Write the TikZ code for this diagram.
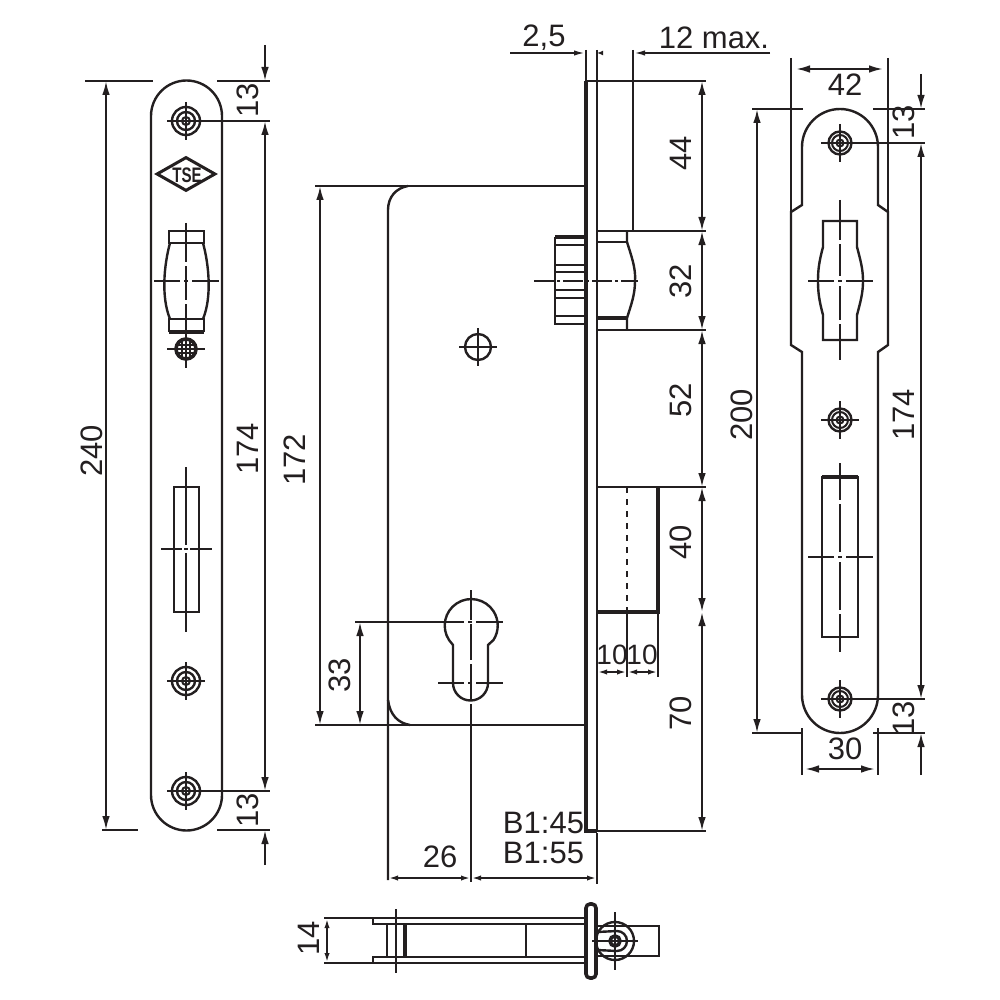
\documentclass[tikz,border=0pt]{standalone}
\usepackage{fontspec}
\setmainfont{Liberation Sans}
\usepackage{xcolor}
\usetikzlibrary{arrows.meta,shapes.geometric}
\definecolor{ink}{HTML}{231F20}

\begin{document}
\begin{tikzpicture}[
  x=0.5pt, y=-0.5pt,
  >={Latex[length=7pt,width=3.8pt]},
  every path/.style={draw=ink, line width=1pt},
  part/.style={line width=1.2pt},
  heavy/.style={line width=1.8pt},
  ext/.style={line width=1pt},
  dim/.style={line width=1pt, <->},
  tiny/.style={line width=1pt, <->, >={Latex[length=5pt,width=2.6pt]}},
  cen/.style={line width=1pt},
  cdash/.style={line width=1pt, dash pattern=on 10pt off 1.5pt on 1.5pt off 1.5pt},
  num/.style={draw=none, inner sep=0pt, text=ink, font=\fontsize{15.5}{18}\selectfont},
  vnum/.style={num, rotate=90}
]
  \useasboundingbox[draw=none] (0,0) rectangle (1000,1000);

  % left plate
  \draw[part] (151,116) arc[start angle=180,end angle=360,radius=35.5] -- (222,795)
    arc[start angle=0,end angle=180,radius=35.5] -- cycle;
  \foreach \cy in {121,681,791} {
    \draw[part] (186,\cy) circle[radius=14];
    \draw[part] (186,\cy) circle[radius=9];
    \draw[cen] (186,\cy) circle[radius=4];
    \draw[cen] (167,\cy) -- (205,\cy);
    \draw[cen] (186,\cy-19) -- (186,\cy+19);
  }
  \node[diamond, aspect=1.75, draw=ink, line width=1.5pt, minimum width=29.5pt, minimum height=17pt, inner sep=0pt] (tse) at (186,174) {};
  \node[draw=none, inner sep=0pt, text=ink, xscale=0.72, font=\bfseries\fontsize{10.5}{11}\selectfont] (tsetext) at (187,175) {TSE};
  \draw[part] (169,231) rectangle (204,243);
  \draw[part] (169,332) -- (169,319) -- (204,319) -- (204,332);
  \draw[heavy] (169,332) -- (204,332);
  \draw[part] (170,243) .. controls (164,265) and (161,297) .. (170,319);
  \draw[part] (203,243) .. controls (209,265) and (212,297) .. (203,319);
  \draw[cen] (154,281) -- (180,281) (184,281) -- (188,281) (192,281) -- (219,281);
  \draw[cen] (186,223) -- (186,262) (186,266) -- (186,300) (186,304) -- (186,342);
  \draw[heavy] (186,349) circle[radius=10];
  \draw[cen] (177,345) -- (195,345) (177,353) -- (195,353) (182,340) -- (182,358) (190,340) -- (190,358);
  \draw[cen] (167,349) -- (205,349) (186,330) -- (186,368);
  \draw[part] (174,487) rectangle (199,612);
  \draw[cen] (161,549) -- (182,549) (184,549) -- (188,549) (190,549) -- (212,549);
  \draw[cen] (186,467) -- (186,545) (186,553) -- (186,632);

  % left plate dimensions
  \draw[ext] (85,81) -- (153,81) (217,81) -- (270,81);
  \draw[ext] (102,830) -- (138,830) (217,830) -- (270,830);
  \draw[ext] (190,121) -- (270,121) (190,791) -- (270,791);
  \draw[dim] (106,81) -- (106,830);
  \draw[->] (265,45) -- (265,81);
  \draw[dim] (265,121) -- (265,791);
  \draw[->] (265,865) -- (265,830);
  \node[vnum] (lena) at (92,451) {240};
  \node[vnum] (lenb) at (248,100) {13};
  \node[vnum] (lenc) at (248,449) {174};
  \node[vnum] (lend) at (248,810) {13};

  % lock body, side view
  \draw[part] (388,880) -- (388,210) .. controls (388,197) and (396,188) .. (408,186);
  \draw[ext] (315,186) -- (586,186);
  \draw[ext] (315,725) -- (586,725);
  \draw[part] (388,700) .. controls (390,715) and (398,723) .. (410,725);
  \draw[heavy] (586,81) -- (586,831) -- (597,831);
  \draw[part] (586,81) -- (597,81) -- (597,831);
  \draw[ext] (586,50) -- (586,81) (597,50) -- (597,81);
  \draw[ext] (597,833) -- (597,884);

  % follower
  \draw[part] (555,237) -- (555,324) -- (586,324);
  \draw[heavy] (555,237) -- (586,237);
  \draw[part] (555,245) -- (586,245) (555,265) -- (586,265) (555,272) -- (586,272) (555,290) -- (586,290) (555,298) -- (586,298) (555,316) -- (586,316);
  \draw[ext] (597,231) -- (706,231) (597,330) -- (706,330);
  \draw[part] (597,242) -- (627,242);
  \draw[heavy] (597,318) -- (627,318);
  \draw[part] (627,231) -- (627,242) .. controls (631,255) and (636,268) .. (635,281) .. controls (635,295) and (631,305) .. (627,318) -- (627,330);
  \draw[cdash] (534,281) -- (638,281);
  \draw[part] (633,50) -- (633,231);

  % hub and cylinder
  \draw[part] (478,347) circle[radius=13];
  \draw[cen] (459,347) -- (497,347) (478,328) -- (478,366);
  \draw[part] (453,645) -- (449,640) arc[start angle=147,end angle=393,radius=26.5] -- (488,645) -- (488,683)
    arc[start angle=0,end angle=180,radius=17.5] -- cycle;
  \draw[cen] (355,622) -- (464,622) (468,622) -- (472,622) (476,622) -- (503,622);
  \draw[cen] (438,683) -- (464,683) (468,683) -- (472,683) (476,683) -- (503,683);
  \draw[cen] (471,590) -- (471,620) (471,624) -- (471,660) (471,664) -- (471,700) (471,704) -- (471,882);

  % latch bolt
  \draw[ext] (597,487) -- (706,487);
  \draw[heavy] (597,612) -- (658,612) -- (658,487);
  \draw[ext, dashed] (627,487) -- (627,612);
  \draw[ext] (627,612) -- (627,677) (658,612) -- (658,677);

  % body dimensions
  \draw[dim] (320,186) -- (320,725);
  \draw[dim] (360,622) -- (360,725);
  \draw[dim] (702,81) -- (702,231);
  \draw[dim] (702,231) -- (702,330);
  \draw[dim] (702,330) -- (702,487);
  \draw[dim] (702,487) -- (702,612);
  \draw[dim] (702,612) -- (702,831);
  \draw[ext] (597,81) -- (706,81) (597,831) -- (706,831);
  \draw[tiny] (597,672) -- (627,672);
  \draw[tiny] (627,672) -- (658,672);
  \draw[tiny] (388,878) -- (471,878);
  \draw[tiny] (471,878) -- (597,878);
  \draw[ext, ->, >={Latex[length=6pt,width=2.6pt]}] (510,53) -- (586,53);
  \draw[ext, ->, >={Latex[length=6pt,width=2.6pt]}] (770,53) -- (633,53);
  \draw[ext, <-, >={Latex[length=3pt,width=2.4pt]}] (597,53) -- (600,53);
  \node[num] (gap) at (544,38) {2,5};
  \node[num] (maxb) at (714,38) {12 max.};
  \node[vnum] (h44) at (681,153) {44};
  \node[vnum] (h32) at (681,281) {32};
  \node[vnum] (h52) at (681,400) {52};
  \node[vnum] (h40) at (681,542) {40};
  \node[vnum] (h70) at (681,713) {70};
  \node[vnum] (h172) at (295,460) {172};
  \node[vnum] (h33) at (340,675) {33};
  \node[num, font=\fontsize{14}{16}\selectfont] (wa) at (612,655) {10};
  \node[num, font=\fontsize{14}{16}\selectfont] (wb) at (642,655) {10};
  \node[num, anchor=east] (bla) at (585,823) {B1:45};
  \node[num, anchor=east] (blb) at (585,853) {B1:55};
  \node[num] (back) at (440,857) {26};

  % right plate
  \draw[part] (802,147) arc[start angle=180,end angle=360,radius=38] -- (878,205) -- (888,212) -- (888,345)
    -- (878,352) -- (878,695) arc[start angle=0,end angle=180,radius=38] -- (802,352) -- (791,345) -- (791,212) -- (802,205) -- cycle;
  \draw[part] (791,58) -- (791,212) (888,58) -- (888,212);
  \foreach \cy in {143,420,699} {
    \draw[part] (840,\cy) circle[radius=11.5];
    \draw[cen] (840,\cy) circle[radius=8];
    \draw[cen] (840,\cy) circle[radius=3.5];
    \draw[cen] (821,\cy) -- (859,\cy);
    \draw[cen] (840,\cy-19) -- (840,\cy+19);
  }
  \draw[part] (823,247) -- (823,221) -- (857,221) -- (857,247) .. controls (861,262) and (863,270) .. (863,281)
    .. controls (863,292) and (861,300) .. (857,315) -- (857,340) -- (823,340) -- (823,315)
    .. controls (819,300) and (818,292) .. (818,281) .. controls (818,270) and (819,262) .. (823,247);
  \draw[cen] (808,281) -- (834,281) (838,281) -- (842,281) (846,281) -- (873,281);
  \draw[cen] (840,200) -- (840,240) (840,244) -- (840,276) (840,286) -- (840,320) (840,324) -- (840,360);
  \draw[part] (822,477) rectangle (858,637);
  \draw[heavy] (822,477) -- (858,477);
  \draw[cen] (808,557) -- (834,557) (838,557) -- (842,557) (846,557) -- (873,557);
  \draw[cen] (840,463) -- (840,500) (840,504) -- (840,552) (840,562) -- (840,610) (840,614) -- (840,652);

  % right plate dimensions
  \draw[dim] (796,69) -- (883,69);
  \draw[dim] (805,769) -- (875,769);
  \draw[ext] (802,728) -- (802,775) (878,728) -- (878,775);
  \draw[ext] (752,109) -- (803,109) (873,109) -- (925,109);
  \draw[ext] (752,733) -- (803,733) (873,733) -- (925,733);
  \draw[ext] (844,143) -- (925,143) (844,699) -- (925,699);
  \draw[dim] (757,109) -- (757,733);
  \draw[->] (921,74) -- (921,109);
  \draw[dim] (921,143) -- (921,699);
  \draw[->] (921,775) -- (921,733);
  \node[num] (wide) at (845,85) {42};
  \node[num] (narrow) at (845,749) {30};
  \node[vnum] (tall) at (742,415) {200};
  \node[vnum] (ra) at (904,122) {13};
  \node[vnum] (rb) at (904,415) {174};
  \node[vnum] (rc) at (904,718) {13};

  % bottom view
  \draw[line width=1.4pt] (373,918) rectangle (586,924);
  \draw[line width=1.4pt] (373,957) rectangle (586,963);
  \draw[part] (387,924) -- (387,957) (526,924) -- (526,957);
  \draw[heavy] (405,924) -- (405,957);
  \draw[cen] (396,909) -- (396,973);
  \draw[heavy, rounded corners=2pt] (586,904) rectangle (596,978);
  \draw[part] (597,926) -- (659,926) -- (659,956) -- (597,956);
  \draw[part] (615,941) circle[radius=19];
  \draw[part] (597,932) -- (617,931) arc[start angle=270,end angle=450,radius=10] -- (597,950);
  \draw[heavy] (615,941) circle[radius=5];
  \draw[cen] (592,941) -- (638,941) (615,912) -- (615,970);
  \draw[ext] (324,918) -- (372,918) (324,963) -- (372,963);
  \draw[tiny] (327,918) -- (327,963);
  \node[vnum] (depth) at (309,938) {14};
\end{tikzpicture}
\end{document}
